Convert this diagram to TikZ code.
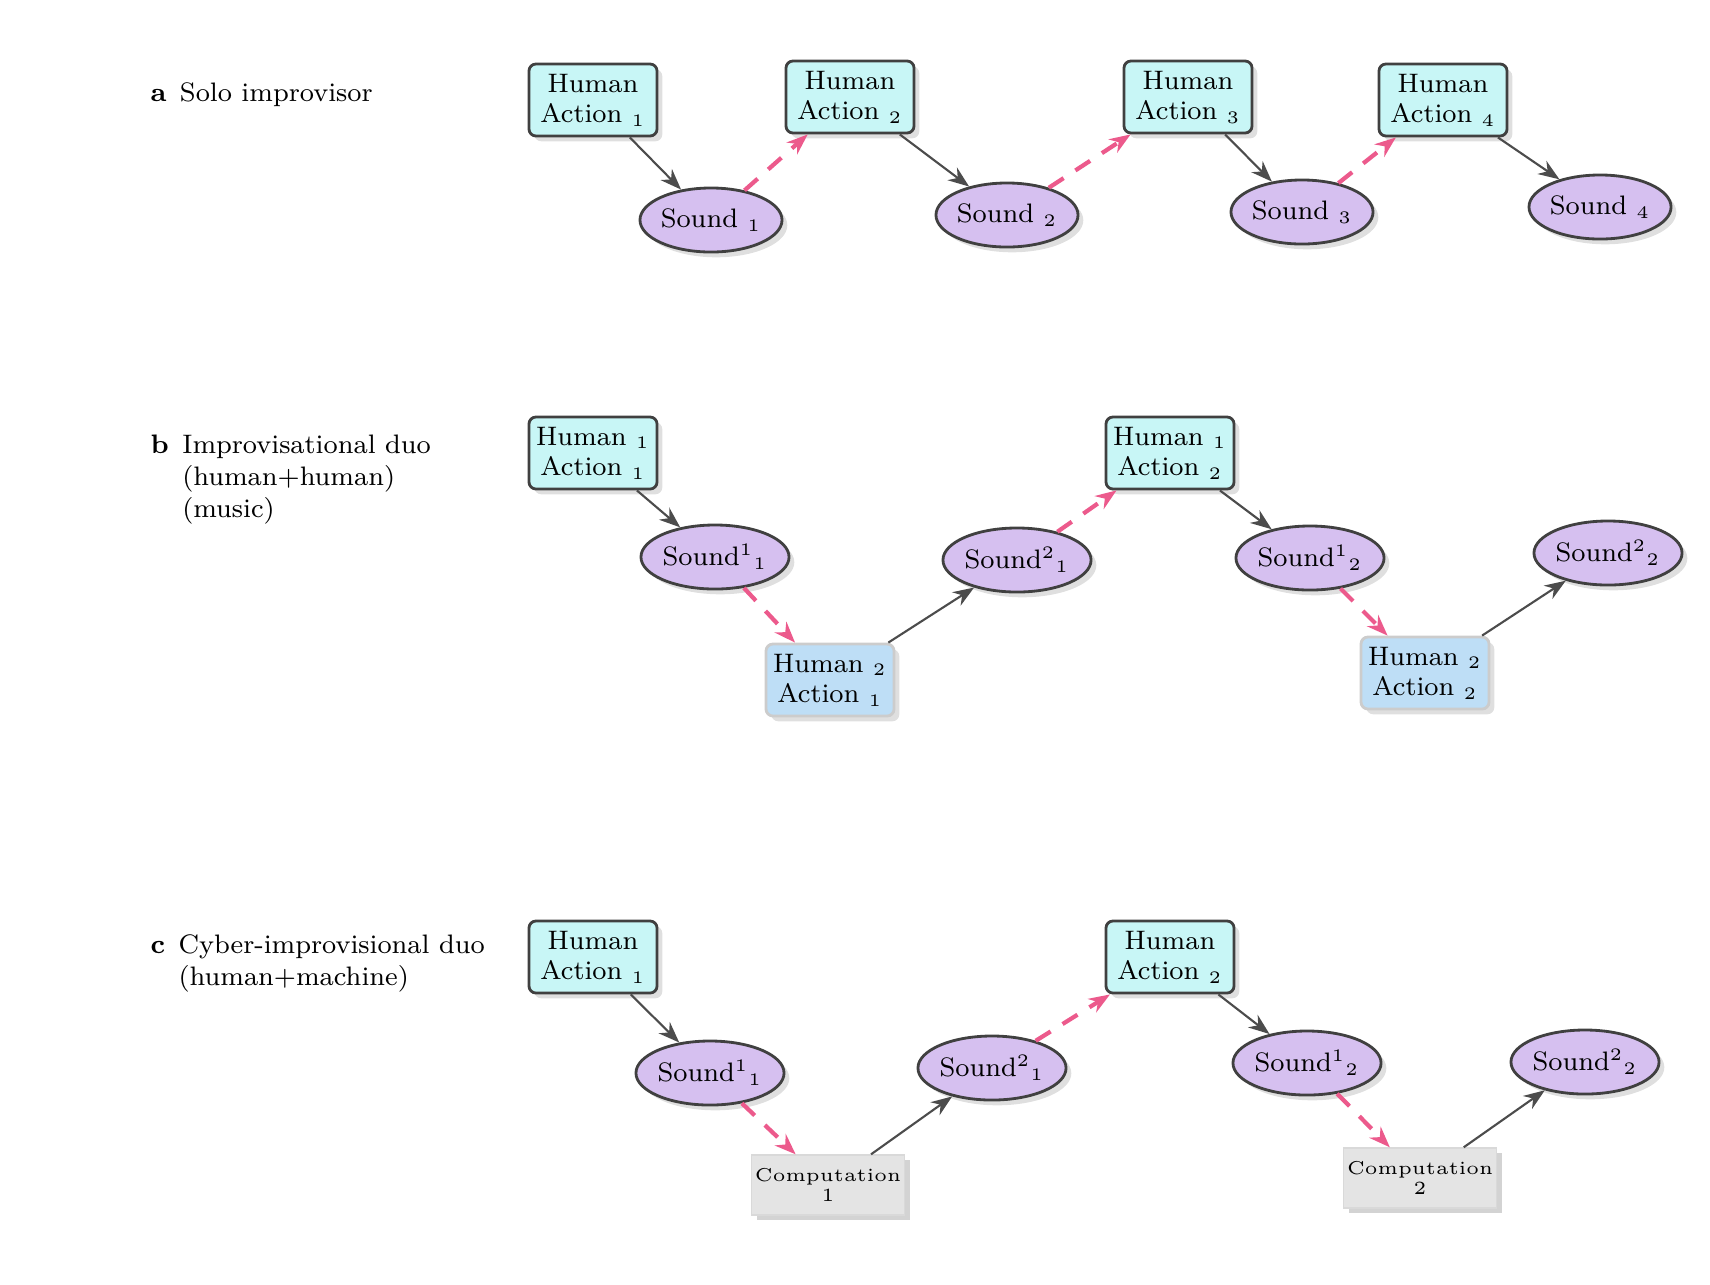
\documentclass[tikz,border=0pt]{standalone}
\usetikzlibrary{shapes.geometric,shadows,arrows.meta}
\definecolor{actfill}{RGB}{200,246,246}
\definecolor{actfillb}{RGB}{190,222,246}
\definecolor{sndfill}{RGB}{214,192,240}
\definecolor{compfill}{RGB}{228,228,228}
\definecolor{cuepink}{RGB}{236,90,140}
\tikzset{
    txt/.style={font=\fontsize{7.6}{8.6}\selectfont, align=center, inner sep=1pt},
    act/.style={txt, draw=black!75, thick, rounded corners=2pt, fill=actfill, minimum width=1.28cm, minimum height=0.72cm, drop shadow={shadow xshift=1.5pt, shadow yshift=-1.5pt, opacity=0.25}},
    actb/.style={act, draw=black!20, fill=actfillb},
    snd/.style={txt, ellipse, draw=black!75, thick, fill=sndfill, minimum width=1.3cm, minimum height=0.64cm, inner sep=0pt, drop shadow={shadow xshift=1.5pt, shadow yshift=-1.5pt, opacity=0.25}},
    comp/.style={txt, font=\fontsize{5.3}{5.8}\selectfont, draw=black!15, fill=compfill, minimum width=1.2cm, minimum height=0.6cm, drop shadow={shadow xshift=1.5pt, shadow yshift=-1.5pt, opacity=0.35}},
    go/.style={-{Stealth[length=6pt]}, draw=black!70, semithick},
    cue/.style={-{Stealth[length=6pt]}, draw=cuepink, very thick, dashed, dash pattern=on 5pt off 4pt},
    lab/.style={font=\fontsize{7.6}{9.2}\selectfont, anchor=north west, align=left, inner sep=0pt}
}
\begin{document}
\begin{tikzpicture}[x=0.01cm, y=-0.01cm]
    \useasboundingbox (0,0) rectangle (1710,1284);

    % a: solo
    \node[lab] (la) at (150,82) {\textbf{a}\enspace Solo improvisor};
    \node[act] (a1) at (593,100) {Human\\Action $_1$};
    \node[act] (a2) at (850,97) {Human\\Action $_2$};
    \node[act] (a3) at (1188,97) {Human\\Action $_3$};
    \node[act] (a4) at (1443,100) {Human\\Action $_4$};
    \node[snd] (s1) at (711,220) {Sound $_1$};
    \node[snd] (s2) at (1007,215) {Sound $_2$};
    \node[snd] (s3) at (1302,212) {Sound $_3$};
    \node[snd] (s4) at (1600,207) {Sound $_4$};
    \draw[go] (a1) -- (s1);
    \draw[go] (a2) -- (s2);
    \draw[go] (a3) -- (s3);
    \draw[go] (a4) -- (s4);
    \draw[cue] (s1) -- (a2);
    \draw[cue] (s2) -- (a3);
    \draw[cue] (s3) -- (a4);

    % b: human+human
    \node[lab] (lb) at (150,434) {\textbf{b}\enspace Improvisational duo\\\phantom{\textbf{b}\enspace}(human+human)\\\phantom{\textbf{b}\enspace}(music)};
    \node[act] (b11) at (593,453) {Human $_1$\\Action $_1$};
    \node[snd] (bs11) at (715,557) {Sound$^{1}{}_{1}$};
    \node[actb] (b21) at (830,680) {Human $_2$\\Action $_1$};
    \node[snd] (bs21) at (1017,560) {Sound$^{2}{}_{1}$};
    \node[act] (b12) at (1170,453) {Human $_1$\\Action $_2$};
    \node[snd] (bs12) at (1310,558) {Sound$^{1}{}_{2}$};
    \node[actb] (b22) at (1425,673) {Human $_2$\\Action $_2$};
    \node[snd] (bs22) at (1608,553) {Sound$^{2}{}_{2}$};
    \draw[go] (b11) -- (bs11);
    \draw[cue] (bs11) -- (b21);
    \draw[go] (b21) -- (bs21);
    \draw[cue] (bs21) -- (b12);
    \draw[go] (b12) -- (bs12);
    \draw[cue] (bs12) -- (b22);
    \draw[go] (b22) -- (bs22);

    % c: human+machine
    \node[lab] (lc) at (150,934) {\textbf{c}\enspace Cyber-improvisional duo\\\phantom{\textbf{c}\enspace}(human+machine)};
    \node[act] (c1) at (593,957) {Human\\Action $_1$};
    \node[snd] (cs11) at (710,1073) {Sound$^{1}{}_{1}$};
    \node[comp] (k1) at (828,1185) {Computation\\1};
    \node[snd] (cs21) at (992,1068) {Sound$^{2}{}_{1}$};
    \node[act] (c2) at (1170,957) {Human\\Action $_2$};
    \node[snd] (cs12) at (1307,1063) {Sound$^{1}{}_{2}$};
    \node[comp] (k2) at (1420,1178) {Computation\\2};
    \node[snd] (cs22) at (1585,1062) {Sound$^{2}{}_{2}$};
    \draw[go] (c1) -- (cs11);
    \draw[cue] (cs11) -- (k1);
    \draw[go] (k1) -- (cs21);
    \draw[cue] (cs21) -- (c2);
    \draw[go] (c2) -- (cs12);
    \draw[cue] (cs12) -- (k2);
    \draw[go] (k2) -- (cs22);
\end{tikzpicture}
\end{document}
